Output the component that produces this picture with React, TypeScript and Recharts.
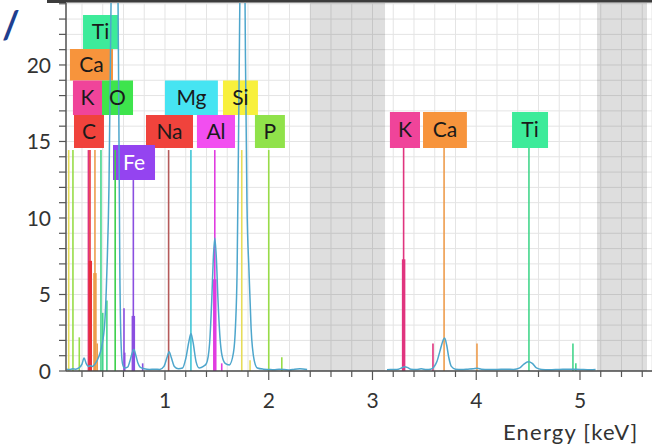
import {
  LineChart,
  Line,
  XAxis,
  YAxis,
  CartesianGrid,
  ReferenceArea,
  ReferenceLine,
} from "recharts";

const FONT = 'Lato, "Open Sans", "DejaVu Sans", sans-serif';

// axis ticks (keV every 0.2, counts every 1)
const energyTicks = [
  0.2, 0.4, 0.6, 0.8, 1, 1.2, 1.4, 1.6, 1.8, 2, 2.2, 2.4, 2.6, 2.8, 3, 3.2, 3.4,
  3.6, 3.8, 4, 4.2, 4.4, 4.6, 4.8, 5, 5.2, 5.4, 5.6,
];
const countTicks = [
  0, 1, 2, 3, 4, 5, 6, 7, 8, 9, 10, 11, 12, 13, 14, 15, 16, 17, 18, 19, 20, 21,
  22, 23, 24,
];

// measured spectrum, null where the trace is blanked out
const spectrumEnergy = [
  0.05, 0.08, 0.11, 0.14, 0.17, 0.2, 0.22, 0.24, 0.26, 0.28, 0.3, 0.33, 0.36,
  0.39, 0.42, 0.44, 0.46, 0.48, 0.5, 0.52, 0.54, 0.555, 0.565, 0.575, 0.59,
  0.61, 0.64, 0.66, 0.68, 0.7, 0.72, 0.74, 0.76, 0.8, 0.85, 0.9, 0.95, 0.99,
  1.02, 1.04, 1.06, 1.09, 1.13, 1.17, 1.2, 1.23, 1.25, 1.27, 1.3, 1.33, 1.37,
  1.4, 1.43, 1.45, 1.465, 1.48, 1.495, 1.51, 1.53, 1.55, 1.58, 1.62, 1.66, 1.68,
  1.695, 1.71, 1.73, 1.745, 1.76, 1.775, 1.79, 1.81, 1.83, 1.86, 1.89, 1.95, 2,
  2.05, 2.1, 2.15, 2.2, 2.25, 2.3, 2.37, 2.4, 3.14, 3.2, 3.25, 3.28, 3.31, 3.34,
  3.37, 3.42, 3.47, 3.52, 3.56, 3.59, 3.62, 3.65, 3.675, 3.695, 3.715, 3.735,
  3.76, 3.8, 3.86, 3.92, 3.97, 4.01, 4.05, 4.12, 4.2, 4.28, 4.36, 4.42, 4.46,
  4.5, 4.54, 4.58, 4.63, 4.7, 4.8, 4.9, 5, 5.1, 5.15, 5.17,
];
const spectrumCounts = [
  0.12, 0.1, 0.14, 0.12, 0.2, 0.45, 0.85, 0.5, 0.3, 0.35, 0.3, 0.5, 0.9, 1.6,
  3.2, 6.5, 12, 24, 34, 38, 31, 17, 6.5, 2.2, 0.5, 0.2, 0.25, 0.6, 1.1, 1.4,
  1.0, 0.5, 0.25, 0.15, 0.1, 0.12, 0.1, 0.3, 0.9, 1.25, 0.9, 0.3, 0.15, 0.2,
  0.8, 1.9, 2.45, 1.9, 0.6, 0.2, 0.3, 0.5, 1.8, 4.5, 7.2, 8.7, 7.4, 4.8, 2.2,
  1.0, 0.5, 0.4, 1.2, 3.0, 6.5, 16, 30, 38, 34, 21, 11, 6.5, 2.8, 0.7, 0.2,
  0.12, 0.1, 0.08, 0.12, 0.1, 0.06, 0.12, 0.14, 0.1, null, 0.08, 0.1, 0.12, 0.2,
  0.28, 0.22, 0.12, 0.1, 0.14, 0.1, 0.12, 0.25, 0.6, 1.3, 1.9, 2.15, 1.7, 0.9,
  0.3, 0.12, 0.1, 0.12, 0.14, 0.18, 0.12, 0.1, 0.1, 0.12, 0.1, 0.2, 0.45, 0.6,
  0.5, 0.2, 0.1, 0.08, 0.1, 0.12, 0.1, 0.08, 0.1, null,
];

// element line markers
const markerElements = [
  "Si", "P", "P", "K", "C", "Ca", "Ca", "Ti", "Ti", "Ti", "O", "Fe", "Fe", "Fe",
  "Fe", "Na", "Mg", "Al", "Al", "Si", "Si", "P", "P", "K", "K", "Ca", "Ca", "Ti",
  "Ti", "Ti",
];
const markerEnergies = [
  0.072, 0.113, 0.174, 0.262, 0.277, 0.325, 0.347, 0.383, 0.4, 0.44, 0.52, 0.605,
  0.612, 0.695, 0.785, 1.035, 1.25, 1.48, 1.547, 1.74, 1.82, 2.0, 2.126, 3.3,
  3.583, 3.69, 4.007, 4.508, 4.932, 4.96,
];
const markerHeights = [
  14.44, 14.44, 2.2, 14.44, 14.44, 14.44, 1.8, 14.44, 3.8, 4.6, 14.44, 4.1, 1.2,
  12.48, 0.5, 14.44, 14.44, 14.44, 0.5, 14.44, 0.7, 14.44, 0.9, 14.58, 1.8,
  14.58, 1.8, 14.58, 1.8, 0.5,
];

// fitted intensities, drawn as the heavy foot of a marker
const fitElements = ["C", "Ca", "Fe", "Al", "K"];
const fitEnergies = [0.28, 0.325, 0.695, 1.48, 3.3];
const fitHeights = [7.2, 6.4, 3.6, 6.0, 7.3];

// element tags
const tagNames = ["Ti", "Ca", "K", "O", "Mg", "Si", "C", "Na", "Al", "P", "Fe", "K", "Ca", "Ti"];
const tagFrom = [0.21, 0.084, 0.113, 0.393, 1.0, 1.559, 0.123, 0.817, 1.308, 1.867, 0.499, 3.168, 3.487, 4.345];
const tagTo = [0.547, 0.499, 0.393, 0.692, 1.51, 1.896, 0.412, 1.27, 1.675, 2.156, 0.904, 3.458, 3.91, 4.692];
const tagLow = [21.05, 18.98, 16.73, 16.73, 16.73, 16.73, 14.58, 14.58, 14.58, 14.58, 12.48, 14.58, 14.58, 14.58];
const tagHigh = [23.27, 21.05, 18.98, 18.98, 18.98, 18.98, 16.73, 16.73, 16.73, 16.73, 14.77, 16.93, 16.93, 16.93];

// shaded (excluded) energy windows
const bandFrom = [2.398, 5.164];
const bandTo = [3.121, 5.646];

const lineColor: Record<string, string> = {
  C: "#e8303a",
  O: "#3ccf4a",
  Na: "#b55a5a",
  Mg: "#3fc6d6",
  Al: "#e03ce0",
  Si: "#e6dc58",
  P: "#98dc48",
  K: "#e0347e",
  Ca: "#ee9c4c",
  Ti: "#44d68c",
  Fe: "#8a4ee0",
};

const tagColor: Record<string, string> = {
  C: "#f0433c",
  O: "#3ee44c",
  Na: "#f0433c",
  Mg: "#46e4f2",
  Al: "#f24ef0",
  Si: "#f8f03c",
  P: "#90e24a",
  K: "#f0449a",
  Ca: "#f7943c",
  Ti: "#3deb9a",
  Fe: "#9444f0",
};

const data = spectrumEnergy.map((e, i) => ({ energy: e, counts: spectrumCounts[i] }));

function EnergyTick({ x, y, payload }: any) {
  const v = payload.value as number;
  const major = Math.abs(v - Math.round(v)) < 1e-6;
  return (
    <g>
      <line x1={x} x2={x} y1={y} y2={y + (major ? 9 : 6)} stroke="#555" strokeWidth={1.2} />
      {major && (
        <text x={x} y={y + 29} dy="0.36em" textAnchor="middle" fill="#333" fontSize={21} fontFamily={FONT}>
          {v}
        </text>
      )}
    </g>
  );
}

function CountTick({ x, y, payload }: any) {
  const v = payload.value as number;
  const major = v % 5 === 0;
  return (
    <g>
      <line x1={x - 7} x2={x} y1={y} y2={y} stroke="#555" strokeWidth={1.2} />
      {major && (
        <text x={x - 15} y={y} dy="0.36em" textAnchor="end" fill="#333" fontSize={21} fontFamily={FONT}>
          {v}
        </text>
      )}
    </g>
  );
}

export default function App() {
  return (
    <div
      style={{
        position: "absolute",
        left: 0,
        top: 0,
        width: 652,
        height: 447,
        background: "#fff",
        overflow: "hidden",
        fontFamily: FONT,
      }}
    >
      <div style={{ position: "absolute", left: 47, top: 0, width: 605, height: 3, background: "#3c3c3c" }} />
      <div
        style={{
          position: "absolute",
          left: 2,
          top: 3,
          fontSize: 38,
          fontWeight: 700,
          color: "#1f3f8f",
          lineHeight: "40px",
        }}
      >
        /
      </div>
      <LineChart width={652} height={447} data={data} margin={{ top: 3, right: 0, bottom: 0, left: 0 }}>
        <CartesianGrid stroke="#e4e4e4" strokeWidth={1} />
        {bandFrom.map((b, i) => (
          <ReferenceArea key={`band-${i}`} x1={b} x2={bandTo[i]} fill="#000" fillOpacity={0.13} stroke="none" />
        ))}
        <XAxis
          dataKey="energy"
          type="number"
          domain={[0.046, 5.694]}
          allowDataOverflow
          ticks={energyTicks}
          interval={0}
          height={76}
          tickSize={0}
          tickMargin={0}
          tickLine={false}
          axisLine={{ stroke: "#4a4a4a", strokeWidth: 1.5 }}
          tick={<EnergyTick />}
        />
        <YAxis
          type="number"
          domain={[0, 24.05]}
          allowDataOverflow
          ticks={countTicks}
          interval={0}
          width={66}
          tickSize={0}
          tickMargin={0}
          tickLine={false}
          axisLine={{ stroke: "#555", strokeWidth: 1.5 }}
          tick={<CountTick />}
        />
        {markerEnergies.map((e, i) => (
          <ReferenceLine
            key={`mk-${i}`}
            segment={[
              { x: e, y: 0 },
              { x: e, y: markerHeights[i] },
            ]}
            stroke={lineColor[markerElements[i]]}
            strokeWidth={1.6}
          />
        ))}
        {fitEnergies.map((e, i) => (
          <ReferenceLine
            key={`fit-${i}`}
            segment={[
              { x: e, y: 0 },
              { x: e, y: fitHeights[i] },
            ]}
            stroke={lineColor[fitElements[i]]}
            strokeWidth={3.5}
          />
        ))}
        <Line
          dataKey="counts"
          type="monotone"
          stroke="#4ea6cc"
          strokeWidth={1.5}
          dot={false}
          connectNulls={false}
          isAnimationActive={false}
        />
        {tagNames.map((t, i) => (
          <ReferenceArea
            key={`tag-${i}`}
            x1={tagFrom[i]}
            x2={tagTo[i]}
            y1={tagLow[i]}
            y2={tagHigh[i]}
            fill={tagColor[t]}
            fillOpacity={1}
            stroke="none"
            label={{
              value: t,
              position: "center",
              fill: t === "Fe" ? "#fff" : "#1a1a1a",
              fontSize: 21,
              fontFamily: FONT,
            }}
          />
        ))}
      </LineChart>
      <div
        style={{
          position: "absolute",
          left: 503,
          top: 418,
          fontSize: 22,
          letterSpacing: 1.2,
          color: "#333",
          whiteSpace: "nowrap",
        }}
      >
        Energy [keV]
      </div>
    </div>
  );
}
